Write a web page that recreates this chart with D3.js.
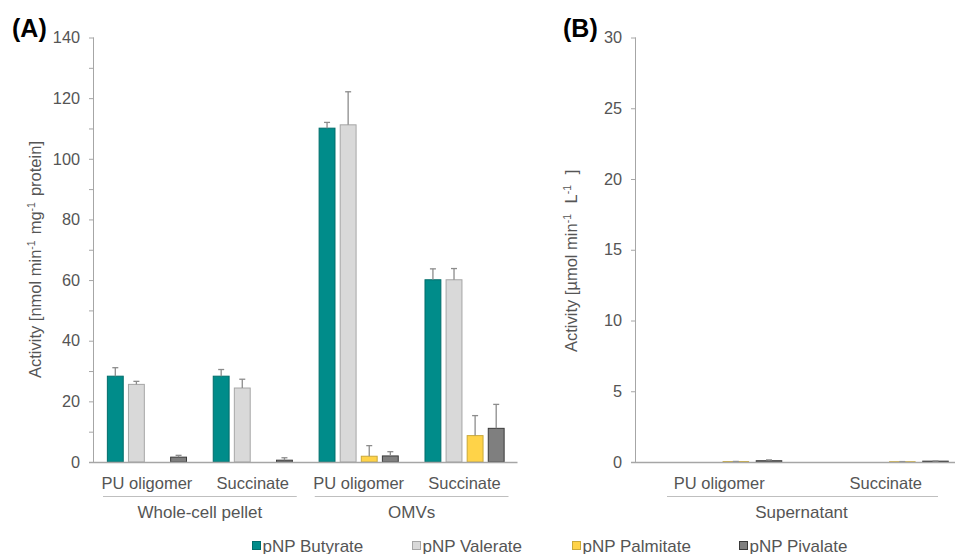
<!DOCTYPE html>
<html><head><meta charset="utf-8">
<script src="https://cdn.jsdelivr.net/npm/d3@7"></script>
<style>
html,body{margin:0;padding:0;background:#fff;}
svg{display:block;font-family:"Liberation Sans",Arial,sans-serif;}
</style></head>
<body>
<svg id="chart" width="955" height="554"></svg>
<script>
// ---------- data ----------
const seriesNames = ["pNP Butyrate", "pNP Valerate", "pNP Palmitate", "pNP Pivalate"];
const seriesFill = ["#008c8a", "#d9d9d9", "#ffd348", "#7f7f7f"];
const seriesStroke = ["#006d6b", "#a6a6a6", "#c9a93a", "#3a3a3a"];

// Panel A
const categoriesA = ["PU oligomer", "Succinate", "PU oligomer", "Succinate"];
const groupsA = ["Whole-cell pellet", "OMVs"];
const butyrateA = [28.3, 28.3, 110.1, 60.1];
const butyrateErrA = [2.8, 2.2, 1.9, 3.6];
const valerateA = [25.6, 24.4, 111.2, 60.1];
const valerateErrA = [1.0, 2.9, 10.9, 3.7];
const palmitateA = [0, 0, 1.9, 8.7];
const palmitateErrA = [0, 0, 3.5, 6.6];
const pivalateA = [1.6, 0.6, 2.0, 11.1];
const pivalateErrA = [0.6, 0.8, 1.4, 7.9];
const yTicksA = [0, 20, 40, 60, 80, 100, 120, 140];
const yMinorA = [10, 30, 50, 70, 90, 110, 130];

// Panel B
const categoriesB = ["PU oligomer", "Succinate"];
const groupsB = ["Supernatant"];
const butyrateB = [0, 0];
const butyrateErrB = [0, 0];
const valerateB = [0, 0];
const valerateErrB = [0, 0];
const palmitateB = [0.03, 0.02];
const palmitateErrB = [0.01, 0.01];
const pivalateB = [0.09, 0.06];
const pivalateErrB = [0.06, 0.01];
const yTicksB = [0, 5, 10, 15, 20, 25, 30];

// ---------- drawing ----------
const svg = d3.select("#chart");
const textColor = "#555555";
const axisColor = "#a6a6a6";
const tickFont = 16.3;
const catFont = 16.5;
const groupFont = 17;

function drawPanel(opts) {
  const g = svg.append("g");
  const y = d3.scaleLinear().domain(opts.yDomain).range([462, 37.5]);
  const idx = opts.categories.map((d, i) => i);
  const x0 = d3.scaleBand().domain(idx).range(opts.xRange).paddingInner(0).paddingOuter(0);
  const x1 = d3.scaleBand().domain(d3.range(seriesNames.length))
    .range([0, x0.bandwidth()]).paddingInner(0.2).paddingOuter(0.61);

  // y axis
  const yAxis = d3.axisLeft(y).tickValues(opts.yTicks).tickSize(5).tickPadding(9).tickFormat(d3.format("d"));
  const ya = g.append("g").attr("transform", `translate(${opts.xRange[0]},0)`).call(yAxis);
  ya.select(".domain").attr("stroke", axisColor).attr("d", `M-0.5,${y.range()[0]}V${y.range()[1]}`);
  ya.selectAll(".tick line").attr("stroke", axisColor);
  ya.selectAll(".tick text").attr("fill", textColor).style("font-size", tickFont + "px")
    .style("font-family", '"Liberation Sans",Arial,sans-serif');
  if (opts.yMinor) {
    g.append("g").selectAll("line").data(opts.yMinor).join("line")
      .attr("x1", opts.xRange[0] - 5).attr("x2", opts.xRange[0])
      .attr("y1", d => y(d) + 0.5).attr("y2", d => y(d) + 0.5)
      .attr("stroke", axisColor);
  }

  // bars
  const cats = g.append("g").selectAll("g").data(idx).join("g")
    .attr("transform", d => `translate(${x0(d)},0)`);
  opts.series.forEach((s, si) => {
    cats.each(function (ci) {
      const v = s.values[ci], e = s.errors[ci];
      if (v <= 0) return;
      const cg = d3.select(this);
      const bx = x1(si), bw = x1.bandwidth();
      cg.append("rect").attr("x", bx + 0.5).attr("y", y(v))
        .attr("width", bw - 1).attr("height", y(0) - y(v))
        .attr("fill", seriesFill[si]).attr("stroke", seriesStroke[si]).attr("stroke-width", 1);
      if (e > 0) {
        const cx = bx + bw / 2;
        cg.append("line").attr("x1", cx).attr("x2", cx).attr("y1", y(v)).attr("y2", y(v + e))
          .attr("stroke", "#8c8c8c").attr("stroke-width", 1.3);
        cg.append("line").attr("x1", cx - 3).attr("x2", cx + 3).attr("y1", y(v + e)).attr("y2", y(v + e))
          .attr("stroke", "#8c8c8c").attr("stroke-width", 1.3);
      }
    });
  });

  // x axis baseline
  g.append("line").attr("x1", opts.xRange[0] - 5).attr("x2", Math.min(opts.xRange[1], 955))
    .attr("y1", y(0) + 0.5).attr("y2", y(0) + 0.5).attr("stroke", axisColor).attr("stroke-width", 1.3);

  // category labels
  g.append("g").selectAll("text").data(idx).join("text")
    .attr("x", d => x0(d) + x0.bandwidth() / 2).attr("y", 489)
    .attr("text-anchor", "middle").attr("fill", textColor).style("font-size", catFont + "px")
    .text(d => opts.categories[d]);

  // group labels + separators
  const per = opts.categories.length / opts.groups.length;
  opts.groups.forEach((gn, gi) => {
    const a = x0(gi * per), b = x0(gi * per + per - 1) + x0.bandwidth();
    g.append("line").attr("x1", a + opts.sepInset).attr("x2", Math.min(b - opts.sepInset, 948))
      .attr("y1", 496.5).attr("y2", 496.5).attr("stroke", "#bfbfbf").attr("stroke-width", 1);
    g.append("text").attr("x", opts.groupCenter ? opts.groupCenter[gi] : (a + b) / 2).attr("y", 518)
      .attr("text-anchor", "middle").attr("fill", textColor).style("font-size", groupFont + "px").text(gn);
  });

  // panel letter
  g.append("text").attr("x", opts.letterX).attr("y", 37).attr("fill", "#000")
    .style("font-size", "25px").style("font-weight", "bold").text(opts.letter);

  // y title
  const t = g.append("text").attr("transform", `translate(${opts.titleX},${opts.titleY}) rotate(-90)`)
    .attr("text-anchor", "start").attr("fill", textColor).style("font-size", "16.5px")
    .style("white-space", "pre");
  opts.title.forEach(p => {
    if (p.sup) {
      t.append("tspan").attr("dy", -6).style("font-size", "10.5px").text(p.t);
      t.append("tspan").attr("dy", 6).text("\u200A");
    } else {
      t.append("tspan").text(p.t);
    }
  });
}

drawPanel({
  yDomain: [0, 140], yTicks: yTicksA, yMinor: yMinorA,
  xRange: [94, 517.5], categories: categoriesA, groups: groupsA,
  series: [
    { values: butyrateA, errors: butyrateErrA },
    { values: valerateA, errors: valerateErrA },
    { values: palmitateA, errors: palmitateErrA },
    { values: pivalateA, errors: pivalateErrA }
  ],
  sepInset: 9, letter: "(A)", letterX: 12,
  titleX: 41, titleY: 378,
  title: [{ t: "Activity [nmol min" }, { t: "-1", sup: true }, { t: " mg" }, { t: "-1", sup: true }, { t: " protein]" }]
});

drawPanel({
  yDomain: [0, 30], yTicks: yTicksB, yMinor: null,
  xRange: [636, 969], categories: categoriesB, groups: groupsB,
  series: [
    { values: butyrateB, errors: butyrateErrB },
    { values: valerateB, errors: valerateErrB },
    { values: palmitateB, errors: palmitateErrB },
    { values: pivalateB, errors: pivalateErrB }
  ],
  sepInset: 31, groupCenter: [801.5], letter: "(B)", letterX: 563,
  titleX: 577, titleY: 352,
  title: [{ t: "Activity [\u00B5mol min" }, { t: "-1", sup: true }, { t: "  L" }, { t: "-1", sup: true }, { t: "  ]" }]
});

// legend
const legendX = [252, 412, 572, 739];
const leg = svg.append("g").selectAll("g").data(seriesNames).join("g")
  .attr("transform", (d, i) => `translate(${legendX[i]},541)`);
leg.append("rect").attr("x", 0.5).attr("y", 0.5).attr("width", 8).attr("height", 8)
  .attr("fill", (d, i) => seriesFill[i]).attr("stroke", (d, i) => seriesStroke[i]);
leg.append("text").attr("x", 10.5).attr("y", 10.5).attr("fill", textColor)
  .style("font-size", "17px").text(d => d);
</script>
</body></html>
